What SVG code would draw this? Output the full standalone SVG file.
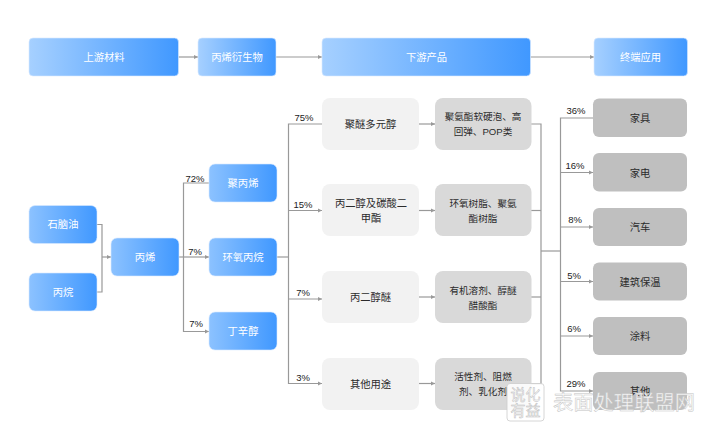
<svg xmlns="http://www.w3.org/2000/svg" width="705" height="429" viewBox="0 0 705 429">
<style>
text{font-family:"Liberation Sans","Noto Sans CJK SC",sans-serif;text-anchor:middle;font-size:10.300px}
.b{fill:url(#g);stroke:#d8eaff;stroke-width:.6}
.s{fill:url(#g2);stroke:#d8eaff;stroke-width:.6}
.l{fill:#f2f2f2}
.d{fill:#d9d9d9}
.e{fill:#bfbfbf}
.w{fill:#fff}
.t{fill:#2b2b2b}
.q{fill:#2b2b2b;font-size:9.600px}
.p{fill:#222;font-size:9.500px}
.c{fill:none;stroke:#999;stroke-width:1.200}
.a{marker-end:url(#m)}
.wm{fill:#fff;fill-opacity:.9;stroke:#c4c4c4;stroke-width:.5;font-size:20.300px}
.wb{fill:#fff;fill-opacity:.9;stroke:#bdbdbd;stroke-width:.5;font-size:15px}
</style>
<defs>
<linearGradient id="g"><stop offset="0" stop-color="#a6d0ff"/><stop offset="1" stop-color="#4098ff"/></linearGradient>
<linearGradient id="g2"><stop offset="0" stop-color="#8cc2ff"/><stop offset="1" stop-color="#4098ff"/></linearGradient>
<marker id="m" markerUnits="userSpaceOnUse" markerWidth="5" markerHeight="5" refX="4" refY="2.500" orient="auto"><path d="M0 .5L4 2.500L0 4.500Z" fill="#999"/></marker>
</defs>
<rect width="705" height="429" fill="#fff"/>
<g id="connectors">
<path class="c a" d="M178.500 57H198"/>
<path class="c a" d="M276 57H322"/>
<path class="c a" d="M530.500 57H594"/>
<path class="c" d="M97 224.500H102V292H97"/>
<path class="c a" d="M102 257H111"/>
<path class="c a" d="M179 257H209"/>
<path class="c a" d="M209 183H183.500V331.500H209"/>
<path class="c" d="M277 257H288.500"/>
<path class="c a" d="M322 124H288.500V383.500H322"/>
<path class="c a" d="M288.500 210.500H322"/>
<path class="c a" d="M288.500 299H322"/>
<path class="c a" d="M419 124H435"/>
<path class="c a" d="M419 210.500H435"/>
<path class="c a" d="M419 297H435"/>
<path class="c a" d="M419 383.500H435"/>
<path class="c" d="M531 124H541V384H531"/>
<path class="c" d="M531 210.500H541"/>
<path class="c" d="M531 297H541"/>
<path class="c" d="M541 251H560.500"/>
<path class="c a" d="M593 118H560.500V391H593"/>
<path class="c a" d="M560.500 172.500H593"/>
<path class="c a" d="M560.500 227H593"/>
<path class="c a" d="M560.500 281.500H593"/>
<path class="c a" d="M560.500 336H593"/>
</g>
<g id="n-up"><rect class="b" x="29" y="38" width="149.500" height="38" rx="4"/><text class="w" x="104" y="61">上游材料</text></g>
<g id="n-deriv"><rect class="b" x="198" y="38" width="78" height="38" rx="4"/><text class="w" x="237" y="61">丙烯衍生物</text></g>
<g id="n-down"><rect class="b" x="322" y="38" width="208.500" height="38" rx="4"/><text class="w" x="426.500" y="61">下游产品</text></g>
<g id="n-end"><rect class="b" x="594" y="38" width="93.500" height="38" rx="4"/><text class="w" x="640.500" y="61">终端应用</text></g>
<g id="n-naphtha"><rect class="s" x="29" y="205.500" width="68" height="38" rx="6"/><text class="w" x="63" y="228">石脑油</text></g>
<g id="n-propane"><rect class="s" x="29" y="273" width="68" height="38" rx="6"/><text class="w" x="63" y="296">丙烷</text></g>
<g id="n-propylene"><rect class="s" x="111" y="238" width="68" height="38" rx="6"/><text class="w" x="145" y="261">丙烯</text></g>
<g id="n-pp"><rect class="s" x="209" y="164" width="68" height="38" rx="6"/><text class="w" x="243" y="187">聚丙烯</text></g>
<g id="n-po"><rect class="s" x="209" y="238" width="68" height="38" rx="6"/><text class="w" x="243" y="261">环氧丙烷</text></g>
<g id="n-bo"><rect class="s" x="209" y="312" width="68" height="38" rx="6"/><text class="w" x="243" y="335">丁辛醇</text></g>
<g id="n-m1"><rect class="l" x="322" y="98" width="97" height="52" rx="8"/><text class="t" x="370.500" y="128">聚醚多元醇</text></g>
<g id="n-m2"><rect class="l" x="322" y="184" width="97" height="52" rx="8"/><text class="t" x="371" y="207">丙二醇及碳酸二</text><text class="t" x="371" y="222">甲酯</text></g>
<g id="n-m3"><rect class="l" x="322" y="271" width="97" height="52" rx="8"/><text class="t" x="370.500" y="301">丙二醇醚</text></g>
<g id="n-m4"><rect class="l" x="322" y="358" width="97" height="52" rx="8"/><text class="t" x="370.500" y="387.500">其他用途</text></g>
<g id="n-d1"><rect class="d" x="435" y="98" width="96.500" height="52" rx="8"/><text class="q" x="483" y="120">聚氨酯软硬泡、高</text><text class="q" x="483" y="135">回弹、POP类</text></g>
<g id="n-d2"><rect class="d" x="435" y="184" width="96.500" height="52" rx="8"/><text class="q" x="483" y="207">环氧树脂、聚氨</text><text class="q" x="483" y="222">酯树脂</text></g>
<g id="n-d3"><rect class="d" x="435" y="271" width="96.500" height="52" rx="8"/><text class="q" x="483" y="293.500">有机溶剂、醇醚</text><text class="q" x="483" y="308.500">醋酸酯</text></g>
<g id="n-d4"><rect class="d" x="435" y="358" width="96.500" height="52" rx="8"/><text class="q" x="483" y="380">活性剂、阻燃</text><text class="q" x="483" y="395">剂、乳化剂</text></g>
<g id="n-e1"><rect class="e" x="593" y="98.500" width="94" height="38.500" rx="6"/><text class="t" x="640" y="122">家具</text></g>
<g id="n-e2"><rect class="e" x="593" y="153" width="94" height="38.500" rx="6"/><text class="t" x="640" y="176.500">家电</text></g>
<g id="n-e3"><rect class="e" x="593" y="208" width="94" height="38" rx="6"/><text class="t" x="640" y="231">汽车</text></g>
<g id="n-e4"><rect class="e" x="593" y="262.500" width="94" height="38" rx="6"/><text class="t" x="640" y="285.500">建筑保温</text></g>
<g id="n-e5"><rect class="e" x="593" y="317" width="94" height="38" rx="6"/><text class="t" x="640" y="340">涂料</text></g>
<g id="n-e6"><rect class="e" x="593" y="372" width="94" height="38" rx="6"/><text class="t" x="640" y="395">其他</text></g>
<g id="labels">
<text class="p" x="195" y="181.500">72%</text>
<text class="p" x="195" y="255">7%</text>
<text class="p" x="196" y="327">7%</text>
<text class="p" x="304" y="121">75%</text>
<text class="p" x="303" y="207.500">15%</text>
<text class="p" x="303" y="295.500">7%</text>
<text class="p" x="303" y="381">3%</text>
<text class="p" x="576" y="114">36%</text>
<text class="p" x="575" y="168.500">16%</text>
<text class="p" x="575" y="222.500">8%</text>
<text class="p" x="574" y="278.500">5%</text>
<text class="p" x="574" y="332">6%</text>
<text class="p" x="576" y="387">29%</text>
</g>
<g id="watermark">
<rect x="507" y="383.500" width="37" height="37.500" rx="3" fill="#fff" fill-opacity=".85" stroke="#ccc" stroke-width=".8"/>
<text class="wb" x="525.500" y="400">说化</text>
<text class="wb" x="525.500" y="416">有益</text>
<text class="wm" x="624" y="410">表面处理联盟网</text>
</g>
</svg>
